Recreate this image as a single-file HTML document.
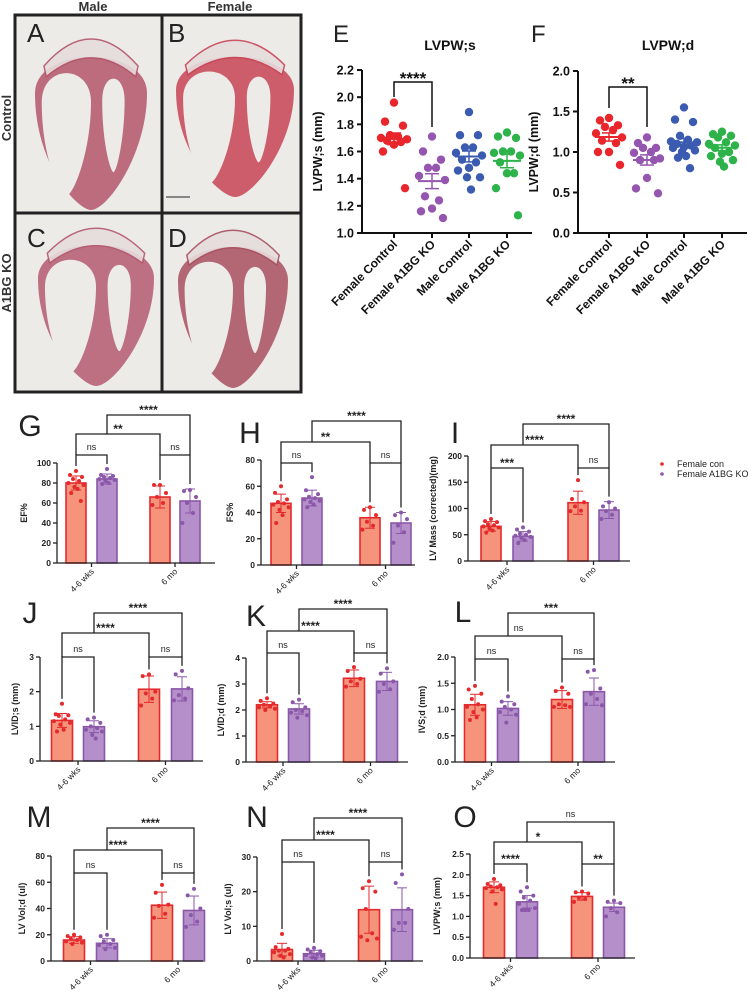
<!DOCTYPE html>
<html><head><meta charset="utf-8"><style>
html,body{margin:0;padding:0;background:#fff;}
svg{display:block;font-family:"Liberation Sans",Arial,sans-serif;}
</style></head><body>
<svg id="fig" width="748" height="992" viewBox="0 0 748 992" xmlns="http://www.w3.org/2000/svg"></svg>
<script>
// ---------- DATA ----------
const scatterCats = ["Female Control","Female A1BG KO","Male Control","Male A1BG KO"];
const eFemaleCon = [1.96,1.82,1.79,1.72,1.71,1.70,1.69,1.68,1.67,1.65,1.60,1.33];
const eFemaleKO = [1.71,1.60,1.54,1.48,1.48,1.42,1.39,1.27,1.24,1.18,1.16,1.11];
const eMaleCon = [1.89,1.72,1.72,1.63,1.63,1.59,1.57,1.54,1.52,1.48,1.46,1.41,1.41,1.32];
const eMaleKO = [1.74,1.71,1.70,1.60,1.60,1.59,1.57,1.52,1.44,1.44,1.33,1.13];
const eTicks = [1.0,1.2,1.4,1.6,1.8,2.0,2.2];
const fFemaleCon = [1.42,1.39,1.33,1.31,1.27,1.23,1.18,1.14,1.11,1.00,1.00,0.84];
const fFemaleKO = [1.18,1.11,1.05,1.05,1.00,0.99,0.92,0.90,0.90,0.68,0.55,0.49];
const fMaleCon = [1.55,1.40,1.37,1.20,1.15,1.13,1.12,1.10,1.08,1.06,1.05,1.02,1.00,0.95,0.93,0.80];
const fMaleKO = [1.25,1.22,1.20,1.18,1.12,1.10,1.08,1.05,1.00,0.98,0.95,0.90,0.88,0.82];
const fTicks = [0.0,0.5,1.0,1.5,2.0];

const groups = ["4-6 wks","6 mo"];
const gMeans=[80,84,66,62], gSD=[7,5,11,12], gTicks=[0,20,40,60,80,100];
const gPts=[[92,88,86,84,82,80,78,76,74,70,62],[94,88,87,86,85,84,83,82,80,79],[78,78,70,66,60,58],[73,72,66,60,50,40]];
const gSig=["ns","ns","**","****"];
const hMeans=[47,51,36,32], hSD=[7,6,8,8], hTicks=[0,20,40,60,80];
const hPts=[[60,55,50,48,47,46,44,42,38,32],[67,57,54,52,51,50,49,48,46,44],[44,42,38,33,30,27],[40,38,35,30,25,17]];
const hSig=["ns","ns","**","****"];
const iMeans=[66,47,111,97], iSD=[9,9,22,16], iTicks=[0,50,100,150,200];
const iPts=[[80,76,74,70,68,66,64,62,58,54],[64,60,56,52,50,48,46,44,40,34],[154,118,112,104,96,95],[112,104,100,95,88,80]];
const iSig=["***","ns","****","****"];
const jMeans=[1.17,0.99,2.07,2.08], jSD=[0.2,0.17,0.38,0.35], jTicks=[0,1,2,3];
const jPts=[[1.65,1.35,1.32,1.3,1.2,1.15,1.1,1.05,0.9,0.85],[1.25,1.2,1.1,1.0,0.95,0.9,0.85,0.75,0.65],[2.5,2.45,2.0,1.95,1.8,1.6],[2.6,2.5,2.1,1.9,1.8,1.75]];
const jSig=["ns","ns","****","****"];
const kMeans=[2.2,2.04,3.22,3.1], kSD=[0.12,0.2,0.32,0.35], kTicks=[0,1,2,3,4];
const kPts=[[2.45,2.35,2.25,2.2,2.15,2.1,2.05,2.0],[2.4,2.3,2.1,2.0,1.95,1.9,1.8,1.7],[3.65,3.5,3.2,3.1,3.0,2.9],[3.6,3.4,3.1,3.0,2.8,2.7]];
const kSig=["ns","ns","****","****"];
const lMeans=[1.09,1.02,1.19,1.34], lSD=[0.2,0.13,0.17,0.26], lTicks=[0,0.5,1.0,1.5,2.0];
const lPts=[[1.45,1.38,1.3,1.2,1.1,1.05,1.0,0.95,0.85,0.8],[1.25,1.15,1.1,1.05,1.0,0.95,0.9,0.75],[1.42,1.35,1.3,1.1,1.08,1.05,1.05],[1.75,1.72,1.4,1.3,1.2,1.1,1.08]];
const lSig=["ns","ns","ns","***"];
const mMeans=[16,13.5,42.5,38.5], mSD=[2.5,3.5,10,11], mTicks=[0,20,40,60,80];
const mPts=[[20,19,18,17,16,15,14,13],[20,19,16,15,13,12,10,9],[58,52,43,42,36,33],[55,50,40,35,30,26]];
const mSig=["ns","ns","****","****"];
const nMeans=[3.3,2.1,14.8,14.8], nSD=[1.8,1.0,6.8,6.3], nTicks=[0,10,20,30];
const nPts=[[7.8,4,3.5,3,3,2.5,2,1.5,1],[3.8,3.3,2.8,2.5,2,1.7,1.5,1,0.8],[23,21,20,15,8,7,6.5,6],[25,22.5,15,11,11,9]];
const nSig=["ns","ns","****","****"];
const oMeans=[1.7,1.35,1.48,1.22], oSD=[0.13,0.15,0.09,0.1], oTicks=[0,0.5,1.0,1.5,2.0,2.5];
const oPts=[[1.9,1.78,1.75,1.72,1.7,1.68,1.65,1.6,1.3],[1.7,1.6,1.5,1.45,1.38,1.3,1.2,1.15,1.15,1.15],[1.6,1.58,1.55,1.45,1.42,1.35],[1.38,1.35,1.32,1.2,1.1,1.0]];
const oSig=["****","**","*","ns"];

// ---------- HELPERS ----------
const NS="http://www.w3.org/2000/svg";
const svg=document.getElementById('fig');
function mk(tag,attrs,parent){const e=document.createElementNS(NS,tag);for(const k in attrs)e.setAttribute(k,attrs[k]);(parent||svg).appendChild(e);return e;}
function txt(s,attrs,parent){const e=mk('text',attrs,parent);e.textContent=s;return e;}
function line(x1,y1,x2,y2,st,w,p){return mk('line',{x1,y1,x2,y2,stroke:st,'stroke-width':w},p);}

// ---------- HISTOLOGY ----------
const histo=mk('g',{});


mk('rect',{x:15,y:15,width:286,height:377,fill:'#ecebe8'},histo);
const hearts=[[91,30,112,180,'#b4566a','A',27,42],[235,32,118,165,'#c94456','B',168,42],[96,220,116,166,'#b45a6e','C',27,247],[233,222,110,166,'#a9505f','D',168,247]];
hearts.forEach(h=>{
  const [cx,top,w,hh,col,L,lx,ly]=h;
  const p=(cx,top,w,hh)=>`M${cx-w/2},${top+hh*0.28} C${cx-w/2},${top+hh*0.72} ${cx-w*0.12},${top+hh} ${cx},${top+hh} C${cx+w*0.15},${top+hh} ${cx+w/2},${top+hh*0.65} ${cx+w/2},${top+hh*0.28} C${cx+w/2},${top-hh*0.02} ${cx-w/2},${top-hh*0.02} ${cx-w/2},${top+hh*0.28}Z`;
  const hg=mk('g',{},histo);
  
  
  mk('path',{d:p(cx,top+hh*0.1,w,hh*0.9),fill:col,opacity:0.85},hg);
  mk('path',{d:p(cx-w*0.22,top+hh*0.2,w*0.44,hh*0.72),fill:'#ecebe8'},hg);
  mk('path',{d:p(cx+w*0.2,top+hh*0.24,w*0.2,hh*0.55),fill:'#ecebe8'},hg);
  mk('path',{d:`M${cx-w*0.42},${top+hh*0.2} Q${cx},${top-hh*0.1} ${cx+w*0.42},${top+hh*0.2} L${cx+w*0.4},${top+hh*0.26} Q${cx},${top+hh*0.05} ${cx-w*0.4},${top+hh*0.26}Z`,fill:'#e6dcdc',stroke:col,'stroke-width':1.5,opacity:0.9},hg);
  const lt=txt(L,{x:lx,y:ly,'font-size':26,fill:'#222','font-weight':300},histo);
  
  
});
mk('rect',{x:15,y:15,width:286,height:377,fill:'none',stroke:'#222','stroke-width':3},histo);
line(162,15,162,392,'#222',3,histo);
line(15,213,301,213,'#222',3,histo);
line(166,197,190,197,'#222',1,histo);
const cl1=txt('Male',{x:93,y:11,'font-size':13,'font-weight':'bold','text-anchor':'middle',fill:'#333'});


const cl2=txt('Female',{x:230,y:11,'font-size':13,'font-weight':'bold','text-anchor':'middle',fill:'#333'});


const rl1=txt('Control',{x:0,y:0,'font-size':13,'font-weight':'bold','text-anchor':'middle',fill:'#333',transform:'translate(11,118) rotate(-90)'});


const rl2=txt('A1BG KO',{x:0,y:0,'font-size':13,'font-weight':'bold','text-anchor':'middle',fill:'#333',transform:'translate(11,283) rotate(-90)'});



// ---------- SCATTER PANELS ----------
const scatColors=['#e8262b','#9556b0','#3b5bb0','#2db34a'];
const jit=[0,-9,9,-4,4,-13,13,-7,7,0,-11,11,-2,2,-6,6];
function scatter(cfg,series,ticks,letter){
  const g=mk('g',{});
  
  
  const ymin=ticks[0],ymax=ticks[ticks.length-1];
  const Y=v=>cfg.y0-(v-ymin)/(ymax-ymin)*(cfg.y0-cfg.ytop);
  const X=i=>cfg.cx[i];
  line(cfg.ax,cfg.ytop,cfg.ax,cfg.y0,'#111',2,g);
  line(cfg.ax,cfg.y0,cfg.xend,cfg.y0,'#111',2,g);
  ticks.forEach(t=>{
    line(cfg.ax-5,Y(t),cfg.ax,Y(t),'#111',2,g);
    const tl=txt(t.toFixed(1),{x:cfg.ax-8,y:Y(t)+4.5,'font-size':12.5,'font-weight':'bold','text-anchor':'end',fill:'#111'},g);
    
    
  });
  scatterCats.forEach((c,i)=>{
    line(X(i),cfg.y0,X(i),cfg.y0+5,'#111',2,g);
    const cl=txt(c,{x:0,y:0,'font-size':12,'font-weight':'bold','text-anchor':'end',fill:'#111',transform:`translate(${X(i)+4},${cfg.y0+12}) rotate(-45)`},g);
    
    
  });
  series.forEach((arr,i)=>{
    arr.forEach((v,k)=>{
      const d=mk('circle',{cx:X(i)+jit[k%jit.length],cy:Y(v),r:4.2,fill:scatColors[i]},g);
      
      
    });
    const m=arr.reduce((a,b)=>a+b,0)/arr.length;
    const sd=Math.sqrt(arr.reduce((a,b)=>a+(b-m)*(b-m),0)/(arr.length-1));
    const se=sd/Math.sqrt(arr.length);
    line(X(i)-14,Y(m),X(i)+14,Y(m),scatColors[i],2,g);
    line(X(i),Y(m+se),X(i),Y(m-se),scatColors[i],1.5,g);
    line(X(i)-7,Y(m+se),X(i)+7,Y(m+se),scatColors[i],1.5,g);
    line(X(i)-7,Y(m-se),X(i)+7,Y(m-se),scatColors[i],1.5,g);
  });
  const yt=txt(cfg.ylabel,{x:0,y:0,'font-size':12.5,'font-weight':'bold','text-anchor':'middle',fill:'#111',transform:`translate(${cfg.ax-40},${(cfg.y0+cfg.ytop)/2}) rotate(-90)`},g);
  
  
  const tt=txt(cfg.title,{x:cfg.titleX,y:50,'font-size':14,'font-weight':'bold','text-anchor':'middle',fill:'#111'},g);
  
  
  const lt=txt(letter,{x:cfg.lx,y:cfg.ly,'font-size':24,fill:'#222'},g);
  
  
  const b=cfg.bracket;
  mk('polyline',{points:`${X(0)},${b[1]} ${X(0)},${b[0]} ${X(1)},${b[0]} ${X(1)},${b[2]}`,fill:'none',stroke:'#111','stroke-width':1.5},g);
  const st=txt(cfg.sig,{x:(X(0)+X(1))/2,y:b[0]+2,'font-size':17,'font-weight':'bold','text-anchor':'middle',fill:'#111'},g);
  
  
}
scatter({ax:362,y0:233,ytop:70,xend:532,cx:[394,432,469,507],ylabel:'LVPW;s (mm)',title:'LVPW;s',titleX:450,lx:333,ly:42,bracket:[82,97,127],sig:'****'},[eFemaleCon,eFemaleKO,eMaleCon,eMaleKO],eTicks,'E');
scatter({ax:578,y0:233,ytop:71,xend:747,cx:[609,647,684,722],ylabel:'LVPW;d (mm)',title:'LVPW;d',titleX:668,lx:531,ly:42,bracket:[87,108,127],sig:'**'},[fFemaleCon,fFemaleKO,fMaleCon,fMaleKO],fTicks,'F');

// ---------- BAR PANELS ----------
const fills=['#f5937b','#b58fca','#f5937b','#b58fca'];
const strokes=['#e42a2c','#8b57a9','#e42a2c','#8b57a9'];
const dots=['#e42a2c','#8b57a9','#e42a2c','#8b57a9'];
const djit=[0,-0.3,0.3,-0.15,0.15,-0.38,0.38,-0.08,0.08,-0.24,0.24];
function fmt(t,dec){return t.toFixed(dec);}
function barPanel(cfg,means,sds,pts,ticks,sig,letter){
  const g=mk('g',{});
  
  
  const ymax=ticks[ticks.length-1];
  const Y=v=>cfg.y0-v/ymax*(cfg.y0-cfg.ytop);
  const X=i=>cfg.bx[i];
  const bw=cfg.bw;
  means.forEach((m,i)=>{
    const r=mk('rect',{x:X(i)-bw/2,y:Y(m),width:bw,height:cfg.y0-Y(m),fill:fills[i],stroke:strokes[i],'stroke-width':1.6},g);
    
    
  });
  pts.forEach((arr,i)=>{
    arr.forEach((v,k)=>{
      const d=mk('circle',{cx:X(i)+djit[k%djit.length]*bw,cy:Y(v),r:2,fill:dots[i]},g);
      
      
    });
    const m=means[i],s=sds[i];
    line(X(i),Y(m+s),X(i),Y(Math.max(0,m-s)),strokes[i],1,g);
    line(X(i)-5,Y(m+s),X(i)+5,Y(m+s),strokes[i],1,g);
    line(X(i)-5,Y(Math.max(0,m-s)),X(i)+5,Y(Math.max(0,m-s)),strokes[i],1,g);
  });
  line(cfg.ax,cfg.ytop,cfg.ax,cfg.y0,'#222',1.3,g);
  line(cfg.ax,cfg.y0,cfg.xend,cfg.y0,'#222',1.3,g);
  ticks.forEach(t=>{
    line(cfg.ax-4,Y(t),cfg.ax,Y(t),'#222',1.3,g);
    const tl=txt(fmt(t,cfg.dec),{x:cfg.ax-6,y:Y(t)+3,'font-size':8.5,'font-weight':'bold','text-anchor':'end',fill:'#222'},g);
    
    
  });
  groups.forEach((gname,gi)=>{
    const cx=(X(gi*2)+X(gi*2+1))/2;
    line(cx,cfg.y0,cx,cfg.y0+4,'#222',1.3,g);
    const xl=txt(gname,{x:0,y:0,'font-size':8.5,'text-anchor':'end',fill:'#222',transform:`translate(${cx+3},${cfg.y0+9}) rotate(-45)`},g);
    
    
  });
  const yt=txt(cfg.ylabel,{x:0,y:0,'font-size':9,'font-weight':'bold','text-anchor':'middle',fill:'#222',transform:`translate(${cfg.ax-cfg.ylOff},${(cfg.y0+cfg.ytop)/2}) rotate(-90)`},g);
  
  
  const lt=txt(letter,{x:cfg.lx,y:cfg.ly,'font-size':30,fill:'#222','text-anchor':'middle'},g);
  
  
  const [bi,bm,bt]=cfg.br;
  const legEnd=i=>Math.min(Y(Math.max(...pts[i],means[i]+sds[i]))-5,cfg.y0);
  const br=(x1,y1a,x2,y2a,yl,lab)=>{
    const pl=mk('polyline',{points:`${x1},${y1a} ${x1},${yl} ${x2},${yl} ${x2},${y2a}`,fill:'none',stroke:'#222','stroke-width':1.3},g);
    
    
    const isns=lab==='ns';
    const tl=txt(lab,{x:(x1+x2)/2,y:isns?yl-5:yl-1,'font-size':isns?9:12,'font-weight':isns?'normal':'bold','text-anchor':'middle',fill:'#222'},g);
    
    
  };
  br(X(0),Math.max(legEnd(0),bi+6),X(1),Math.max(legEnd(1),bi+6),bi,sig[0]);
  br(X(2),Math.max(legEnd(2),bi+6),X(3),Math.max(legEnd(3),bi+6),bi,sig[1]);
  br(X(0),bi,X(2),bi,bm,sig[2]);
  br(X(1),bm,X(3),bi,bt,sig[3]);
}
barPanel({ax:57,y0:563,ytop:463,xend:215,bx:[76,107,160,190],bw:20,dec:0,ylabel:'EF%',ylOff:30,lx:30,ly:436,br:[455,434,415]},gMeans,gSD,gPts,gTicks,gSig,'G');
barPanel({ax:261,y0:565,ytop:460,xend:415,bx:[281,312,370,401],bw:20,dec:0,ylabel:'FS%',ylOff:28,lx:250,ly:443,br:[463,442,421]},hMeans,hSD,hPts,hTicks,hSig,'H');
barPanel({ax:468,y0:561,ytop:456,xend:630,bx:[491,523,578,609],bw:20,dec:0,ylabel:'LV Mass (corrected)(mg)',ylOff:32,lx:455,ly:443,br:[468,445,424]},iMeans,iSD,iPts,iTicks,iSig,'I');
barPanel({ax:40,y0:761,ytop:657,xend:203,bx:[62,94,149,182],bw:21,dec:0,ylabel:'LVID;s (mm)',ylOff:22,lx:30,ly:623,br:[657,633,613]},jMeans,jSD,jPts,jTicks,jSig,'J');
barPanel({ax:246,y0:762,ytop:658,xend:408,bx:[267,299,354,387],bw:21,dec:0,ylabel:'LVID;d (mm)',ylOff:22,lx:256,ly:626,br:[653,631,609]},kMeans,kSD,kPts,kTicks,kSig,'K');
barPanel({ax:455,y0:762,ytop:657,xend:615,bx:[475,508,562,594],bw:21,dec:1,ylabel:'IVS;d (mm)',ylOff:30,lx:463,ly:622,br:[659,636,613]},lMeans,lSD,lPts,lTicks,lSig,'L');
barPanel({ax:51,y0:961,ytop:856,xend:203,bx:[74,107,162,194],bw:21,dec:0,ylabel:'LV Vol;d (ul)',ylOff:26,lx:39,ly:827,br:[873,850,828]},mMeans,mSD,mPts,mTicks,mSig,'M');
barPanel({ax:257,y0:961,ytop:857,xend:423,bx:[282,314,369,402],bw:21,dec:0,ylabel:'LV Vol;s (ul)',ylOff:26,lx:257,ly:827,br:[862,840,818]},nMeans,nSD,nPts,nTicks,nSig,'N');
barPanel({ax:470,y0:958,ytop:854,xend:635,bx:[494,527,582,614],bw:21,dec:1,ylabel:'LVPW;s (mm)',ylOff:30,lx:465,ly:827,br:[864,842,822]},oMeans,oSD,oPts,oTicks,oSig,'O');

// ---------- LEGEND ----------
const lg=mk('g',{});


const le1=mk('g',{},lg);


mk('circle',{cx:662,cy:464,r:1.8,fill:'#e42a2c'},le1);
txt('Female con',{x:677,y:467,'font-size':9,fill:'#222'},le1);
const le2=mk('g',{},lg);


mk('circle',{cx:662,cy:474,r:1.8,fill:'#8b57a9'},le2);
txt('Female A1BG KO',{x:677,y:477,'font-size':9,fill:'#222'},le2);
</script>
</body></html>
